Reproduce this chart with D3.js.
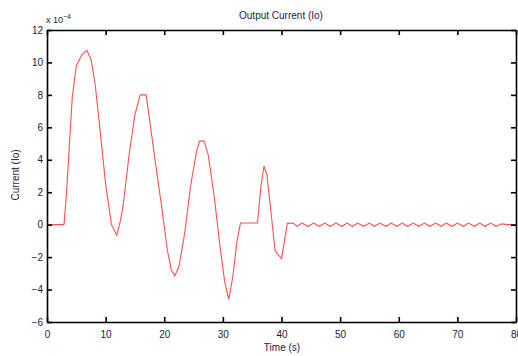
<!DOCTYPE html>
<html><head><meta charset="utf-8">
<script src="https://cdn.jsdelivr.net/npm/d3@7"></script>
<style>body{margin:0;background:#fff}svg{display:block}text{font-family:"Liberation Sans",Arial,sans-serif}</style>
</head><body><svg id="c" width="518" height="356"></svg>
<script>
// Data (current in units of 1e-4)
const time = [0,2.9,3.3,4.3,5.0,6.0,6.8,7.5,8.2,9.0,10.0,11.0,11.9,12.5,13.0,14.0,15.0,15.9,16.9,17.6,18.5,19.6,20.5,21.2,21.8,22.5,23.5,24.5,25.5,26.0,26.8,27.5,28.5,29.5,30.3,31.0,31.7,32.4,33.0,35.9,36.5,37.0,37.5,38.2,38.9,40.0,40.5,41.0,
  42.0,42.6,43.5,44.5,45.5,46.4,47.4,48.3,49.3,50.3,51.2,52.1,53.0,54.0,55.0,55.8,56.8,57.8,58.7,59.7,60.6,61.5,62.5,63.4,64.4,65.3,66.3,67.2,68.1,69.1,70.0,71.0,71.9,72.9,73.8,74.7,75.7,76.6,77.6,78.5,80.0];
const current = [0,0,1.8,7.8,9.8,10.5,10.75,10.2,8.7,6.0,2.5,0.0,-0.65,0.2,1.2,4.3,6.8,8.0,8.0,6.2,3.8,1.0,-1.5,-2.8,-3.15,-2.6,-0.5,2.4,4.5,5.15,5.15,4.3,1.8,-1.3,-3.5,-4.6,-3.2,-1.0,0.1,0.1,2.4,3.6,3.1,0.8,-1.6,-2.1,-1.0,0.08,
  0.1,-0.1,0.1,-0.1,0.1,-0.1,0.1,-0.1,0.1,-0.1,0.1,-0.1,0.1,-0.1,0.1,-0.1,0.1,-0.1,0.1,-0.1,0.1,-0.1,0.1,-0.1,0.1,-0.1,0.1,-0.1,0.1,-0.1,0.1,-0.1,0.1,-0.1,0.1,-0.1,0.1,-0.1,0.05,0.0,0.0];
const xTicks = [0,10,20,30,40,50,60,70,80];
const yTicks = [-6,-4,-2,0,2,4,6,8,10,12];
const title = "Output Current (Io)";
const xLabel = "Time (s)";
const yLabel = "Current (Io)";

const svg = d3.select("#c");
const L=47, R=516, T=30, B=322;
const x = d3.scaleLinear().domain([0,80]).range([L,R]);
const y = d3.scaleLinear().domain([-6,12]).range([B,T]);

// line
const pts = time.map((t,i)=>[t,current[i]]);
svg.append("path").datum(pts)
  .attr("fill","none").attr("stroke","#ff5050").attr("stroke-width",1.1)
  .attr("d", d3.line().x(d=>x(d[0])).y(d=>y(d[1])));

const fs = 10;
// axes (MATLAB-style inward ticks)
const ax = (g)=>g.selectAll(".domain").attr("stroke","#000").attr("stroke-width",1.6);
const gBottom = svg.append("g").attr("transform",`translate(0,${B})`)
  .call(d3.axisBottom(x).tickValues(xTicks).tickSizeInner(-5).tickSizeOuter(0).tickPadding(9));
const gTop = svg.append("g").attr("transform",`translate(0,${T})`)
  .call(d3.axisTop(x).tickValues(xTicks).tickSizeInner(-5).tickSizeOuter(0).tickFormat(""));
const gLeft = svg.append("g").attr("transform",`translate(${L},0)`)
  .call(d3.axisLeft(y).tickValues(yTicks).tickSizeInner(-5).tickSizeOuter(0).tickPadding(9));
const gRight = svg.append("g").attr("transform",`translate(${R},0)`)
  .call(d3.axisRight(y).tickValues(yTicks).tickSizeInner(-5).tickSizeOuter(0).tickFormat(""));
[gBottom,gTop,gLeft,gRight].forEach(g=>{
  ax(g);
  g.selectAll(".tick line").attr("stroke","#000").attr("stroke-width",1.6);
  g.selectAll("text").attr("font-size",fs).attr("fill","#1a1a40").style("font-family","Liberation Sans, Arial, sans-serif");
});
gLeft.selectAll(".tick text").attr("x",-4).text(d=>d<0?"\u2212"+Math.abs(d):d);

// exponent label
const ex = svg.append("text").attr("x",46).attr("y",23).attr("font-size",9).attr("fill","#1a1a40");
ex.append("tspan").text("x 10");
ex.append("tspan").attr("dy",-4).attr("font-size",7).text("\u22124");

svg.append("text").attr("x",281).attr("y",19).attr("text-anchor","middle").attr("font-size",10).attr("fill","#1a1a40").text(title);
svg.append("text").attr("x",282).attr("y",351).attr("text-anchor","middle").attr("font-size",10).attr("fill","#1a1a40").text(xLabel);
svg.append("text").attr("transform","translate(19,175) rotate(-90)").attr("text-anchor","middle").attr("font-size",10).attr("fill","#1a1a40").text(yLabel);
</script></body></html>
